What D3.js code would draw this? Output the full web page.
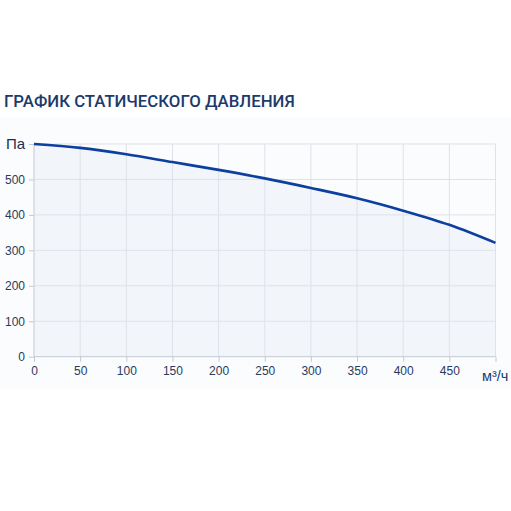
<!DOCTYPE html>
<meta charset="utf-8">
<style>
  body { margin: 0; background: #fff; }
  .tick text { font-family: "Liberation Sans", Arial, sans-serif; }
</style>
<body>
<div id="chart"></div>
<script src="https://d3js.org/d3.v7.min.js"></script>
<script>
  // data
  var flow = [0, 50, 100, 150, 200, 250, 300, 350, 400, 450, 500];
  var pressure = [600, 589, 571, 549, 527, 503, 476, 447, 412, 372, 321];
  var xTicks = [0, 50, 100, 150, 200, 250, 300, 350, 400, 450, 500];
  var yTicks = [0, 100, 200, 300, 400, 500, 600];
  var title = "ГРАФИК СТАТИЧЕСКОГО ДАВЛЕНИЯ";
  var xUnit = "м³/ч", yUnit = "Па";

  var width = 511, height = 511;
  var margin = {top: 144, right: 15, bottom: 154, left: 34};

  var svg = d3.select("#chart").append("svg")
      .attr("width", width)
      .attr("height", height);

  // faint panel behind the chart
  svg.append("rect")
      .attr("x", 0).attr("y", 117)
      .attr("width", width).attr("height", 273)
      .attr("fill", "#fafcfe");

  svg.append("text")
      .attr("x", 4).attr("y", 107)
      .attr("font-family", "Roboto, sans-serif")
      .attr("font-weight", 500)
      .attr("font-size", "16.8px")
      .attr("fill", "#1c3a6b")
      .text(title);

  var x = d3.scaleLinear().domain([0, 500]).range([margin.left, width - margin.right - 0.5]);
  var y = d3.scaleLinear().domain([0, 600]).range([height - margin.bottom - 0.3, margin.top]);

  var g = svg.append("g");

  g.append("rect")
      .attr("x", x(0)).attr("y", y(600))
      .attr("width", x(500) - x(0)).attr("height", y(0) - y(600))
      .attr("fill", "#fbfcfe");

  var pts = flow.map(function(d, i) { return [d, pressure[i]]; });

  g.append("path")
      .datum(pts)
      .attr("fill", "#f2f5fa")
      .attr("d", d3.area()
        .x(function(d) { return x(d[0]); })
        .y0(y(0))
        .y1(function(d) { return y(d[1]); })
        .curve(d3.curveMonotoneX));

  // grid
  g.selectAll(".vgrid").data(xTicks).enter().append("line")
      .attr("x1", function(d) { return x(d); }).attr("x2", function(d) { return x(d); })
      .attr("y1", y(600)).attr("y2", y(0))
      .attr("stroke", function(d) { return d === 0 ? "#c4c8d0" : "#dfe2e8"; })
      .attr("stroke-width", 1);
  g.selectAll(".hgrid").data(yTicks).enter().append("line")
      .attr("x1", x(0)).attr("x2", x(500))
      .attr("y1", function(d) { return y(d); }).attr("y2", function(d) { return y(d); })
      .attr("stroke", function(d) { return d === 0 ? "#c4c8d0" : "#dfe2e8"; })
      .attr("stroke-width", 1);

  g.append("path")
      .datum(pts)
      .attr("fill", "none")
      .attr("stroke", "#0c3f9e")
      .attr("stroke-width", 2.6)
      .attr("d", d3.line()
        .x(function(d) { return x(d[0]); })
        .y(function(d) { return y(d[1]); })
        .curve(d3.curveMonotoneX));

  var xAxis = svg.append("g")
      .attr("transform", "translate(0," + y(0) + ")")
      .call(d3.axisBottom(x).tickValues(xTicks).tickSize(5).tickPadding(5)
        .tickFormat(function(d) { return d === 500 ? "" : d; }));
  var yAxis = svg.append("g")
      .attr("transform", "translate(" + x(0) + ",0)")
      .call(d3.axisLeft(y).tickValues(yTicks).tickSize(5).tickPadding(4)
        .tickFormat(function(d) { return d === 600 ? "" : d; }));

  [xAxis, yAxis].forEach(function(a) {
    a.select(".domain").remove();
    a.selectAll(".tick line").attr("stroke", "#c4c8d0");
    a.selectAll(".tick text").attr("fill", "#2a3a5c").attr("font-size", "12px");
  });

  svg.append("text")
      .attr("x", 6).attr("y", y(600) + 5)
      .attr("font-family", "Liberation Sans, Arial, sans-serif")
      .attr("font-size", "15px")
      .attr("fill", "#1c2f52")
      .text(yUnit);

  svg.append("text")
      .attr("x", 482).attr("y", y(0) + 24)
      .attr("font-family", "Liberation Sans, Arial, sans-serif")
      .attr("font-size", "14.5px")
      .attr("fill", "#1c3a6b")
      .text(xUnit);
</script>
</body>
